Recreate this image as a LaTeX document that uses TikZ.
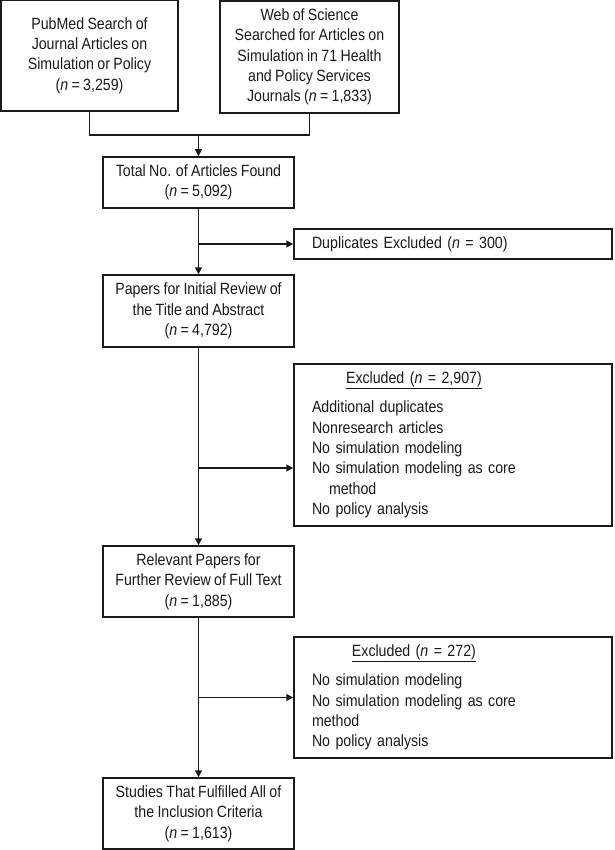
\documentclass[tikz,border=0pt]{standalone}
\usepackage{fontspec}
\setmainfont{Liberation Sans}[FakeStretch=0.87, WordSpace=0.85]
\usetikzlibrary{arrows.meta}
\definecolor{ink}{HTML}{1A1A1A}
\begin{document}
\begin{tikzpicture}[x=1pt, y=-1pt,
        every node/.style={font=\fontsize{16.3}{20.3}\selectfont, text=ink},
        mainbox/.style={draw=ink, line width=1.5pt, align=center, inner sep=0pt},
        sidebox/.style={draw=ink, line width=1.5pt, align=left, inner ysep=0pt, inner xsep=18pt,
            text width=282pt, minimum width=318pt},
        arr/.style={draw=ink, line width=1.5pt, -{Triangle[length=7pt, width=7pt]}},
        link/.style={draw=ink, line width=1.5pt}]
        \useasboundingbox (0,0) rectangle (614,850);

        \node[mainbox, minimum width=177pt, minimum height=111pt] (pubmed) at (89.5,55.5)
            {PubMed Search of\\Journal Articles on\\Simulation or Policy\\(\textit{n} = 3,259)};
        \node[mainbox, minimum width=179pt, minimum height=112pt] (wos) at (309.5,57)
            {Web of Science\\Searched for Articles on\\Simulation in 71 Health\\and Policy Services\\Journals (\textit{n} = 1,833)};

        \node[mainbox, minimum width=191pt, minimum height=51pt] (total) at (198.5,182.5)
            {Total No. of Articles Found\\(\textit{n} = 5,092)};
        \node[sidebox, minimum height=30pt] (dup) at (453,244)
            {Duplicates Excluded (\textit{n} = 300)};

        \node[mainbox, minimum width=191pt, minimum height=72pt] (initial) at (198.5,311)
            {Papers for Initial Review of\\the Title and Abstract\\(\textit{n} = 4,792)};
        \node[sidebox, minimum height=162pt] (excla) at (453,445)
            {\begin{tabular}{@{}l@{}}
            \multicolumn{1}{@{}c@{}}{\underline{Excluded (\textit{n} = 2,907)}}\\[9pt]
            Additional duplicates\\
            Nonresearch articles\\
            No simulation modeling\\
            No simulation modeling as core\\
            \hspace*{17pt}method\\
            No policy analysis
            \end{tabular}};

        \node[mainbox, minimum width=191pt, minimum height=71pt] (relevant) at (198.5,581.5)
            {Relevant Papers for\\Further Review of Full Text\\(\textit{n} = 1,885)};
        \node[sidebox, minimum height=121pt] (exclb) at (453,697.5)
            {\begin{tabular}{@{}l@{}}
            \multicolumn{1}{@{}c@{}}{\underline{Excluded (\textit{n} = 272)}}\\[9pt]
            No simulation modeling\\
            No simulation modeling as core\\
            method\\
            No policy analysis
            \end{tabular}};

        \node[mainbox, minimum width=191pt, minimum height=71pt] (studies) at (198.5,813.5)
            {Studies That Fulfilled All of\\the Inclusion Criteria\\(\textit{n} = 1,613)};

        \coordinate (merge) at (198.5,135);
        \coordinate (brancha) at (198.5,468);

        \draw[link] (pubmed.south) |- (merge) -| (wos.south);
        \draw[arr] (merge) to (total.north);

        \draw[arr] (total.south) to (initial.north);
            \draw[arr] (total.south |- dup.west) to (dup.west);

        \draw[arr] (initial.south) to (relevant.north);
            \draw[arr] (brancha) to (brancha -| excla.west);

        \draw[arr] (relevant.south) to (studies.north);
            \draw[arr] (relevant.south |- exclb.west) to (exclb.west);
\end{tikzpicture}
\end{document}
